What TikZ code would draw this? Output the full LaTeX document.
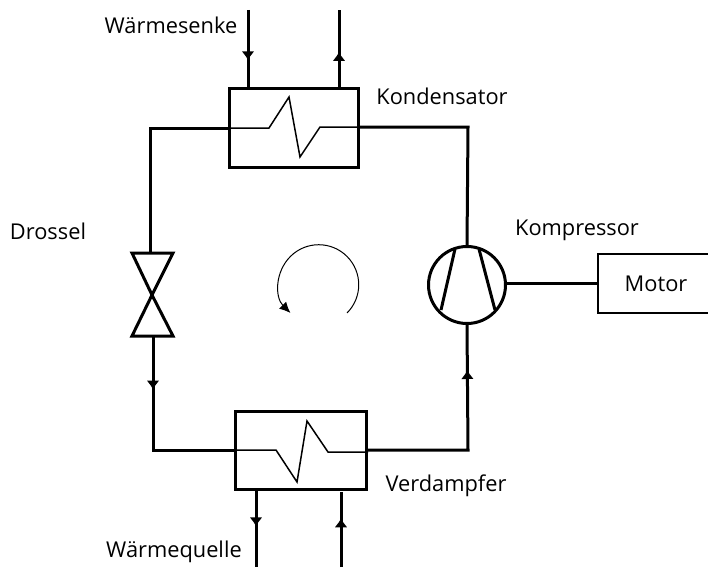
\documentclass[tikz,border=0pt]{standalone}
\usepackage{fontspec}
\setmainfont{Open Sans}
\usetikzlibrary{arrows.meta,decorations.markings}
\tikzset{
  pipe/.style={line width=3pt},
  thinpipe/.style={line width=1.5pt},
  hxbox/.style={draw, rectangle, line width=3pt, inner sep=0pt},
  flowtip/.style={postaction={decorate}, decoration={markings, mark=at position #1 with {\arrow{Latex[length=9pt,width=13pt]}}}},
  lbl/.style={inner sep=0pt, font=\fontsize{21.8}{24}\selectfont},
}
\begin{document}
\begin{tikzpicture}[x=1pt,y=-1pt]
\useasboundingbox (0,0) rectangle (708,567);
% heat exchangers
\node (kondensator) [hxbox, minimum width=129pt, minimum height=78pt] at (293.5,128) {};
\node (verdampfer) [hxbox, minimum width=131pt, minimum height=78pt] at (301,450) {};
\draw [thinpipe] (kondensator.west) -- (269,128) -- (289,97) -- (300,157) -- (320,127) -- (kondensator.east |- 0,127);
\draw [thinpipe] (verdampfer.west) -- (276,450) -- (297,482) -- (307,421) -- (328,452) -- (verdampfer.east |- 0,452);
% compressor and motor
\node (kompressor) [draw, circle, line width=3pt, minimum size=77pt, inner sep=0pt] at (467,285) {};
\node (motor) [draw, rectangle, line width=1.5pt, minimum width=120pt, minimum height=59pt, anchor=west, inner sep=0pt] at (597,283.5) {};
\node (motortext) [lbl] at (656,284) {Motor};
\draw [pipe] (kompressor.east |- 0,283) -- (motor.west |- 0,283);
\draw [pipe] (455,249) -- (441,310);
\draw [pipe] (479,249) -- (495,310);
% valve
\coordinate (drosselmitte) at (152,295);
\coordinate (drosseltop) at (150,253);
\coordinate (drosselbot) at (153,336);
\draw [pipe, line join=miter] (132,253) -- (173,253) -- (drosselmitte) -- (173,336) -- (132,336) -- (drosselmitte) -- cycle;
% refrigerant loop
\coordinate (ecklinksoben) at (150,128);
\coordinate (eckrechtsoben) at (468,127);
\coordinate (ecklinksunten) at (153,450);
\coordinate (eckrechtsunten) at (468,450);
\draw [pipe] (kondensator.west) -- (ecklinksoben) -- (drosseltop);
\draw [pipe] (kondensator.east |- eckrechtsoben) -- (eckrechtsoben) -- (kompressor.north);
\draw [pipe, flowtip=0.275] (drosselbot) -- (ecklinksunten) -- (verdampfer.west);
\draw [pipe, flowtip=0.8] (verdampfer.east) -- (eckrechtsunten) -- (kompressor.south);
% heat sink and source
\coordinate (senkeein) at (248,10);
\coordinate (senkeaus) at (339,10);
\coordinate (quelleaus) at (256,567);
\coordinate (quelleein) at (341,567);
\draw [pipe, flowtip=0.65] (senkeein) -- (senkeein |- kondensator.north);
\draw [pipe, flowtip=0.46] (senkeaus |- kondensator.north) -- (senkeaus);
\draw [pipe, flowtip=0.47] (quelleaus |- verdampfer.south) -- (quelleaus);
\node (quellespalt) at (341,492) [inner sep=0pt] {};
\draw [pipe, flowtip=0.65] (quelleein) -- (quellespalt.center);
% cycle direction
\coordinate (kreisstart) at (347,313);
\draw [line width=1pt, -{Latex[length=11pt,width=10pt]}] (kreisstart) arc [start angle=45, end angle=-225+0, x radius=40pt, y radius=-40pt];
% labels
\node (senketext) [lbl] at (171,25) {Wärmesenke};
\node (kondtext) [lbl] at (442,96) {Kondensator};
\node (drosseltext) [lbl] at (48,231) {Drossel};
\node (komptext) [lbl] at (577,230) {Kompressor};
\node (verdtext) [lbl] at (446,486) {Verdampfer};
\node (quelletext) [lbl] at (174,552) {Wärmequelle};
\end{tikzpicture}
\end{document}
